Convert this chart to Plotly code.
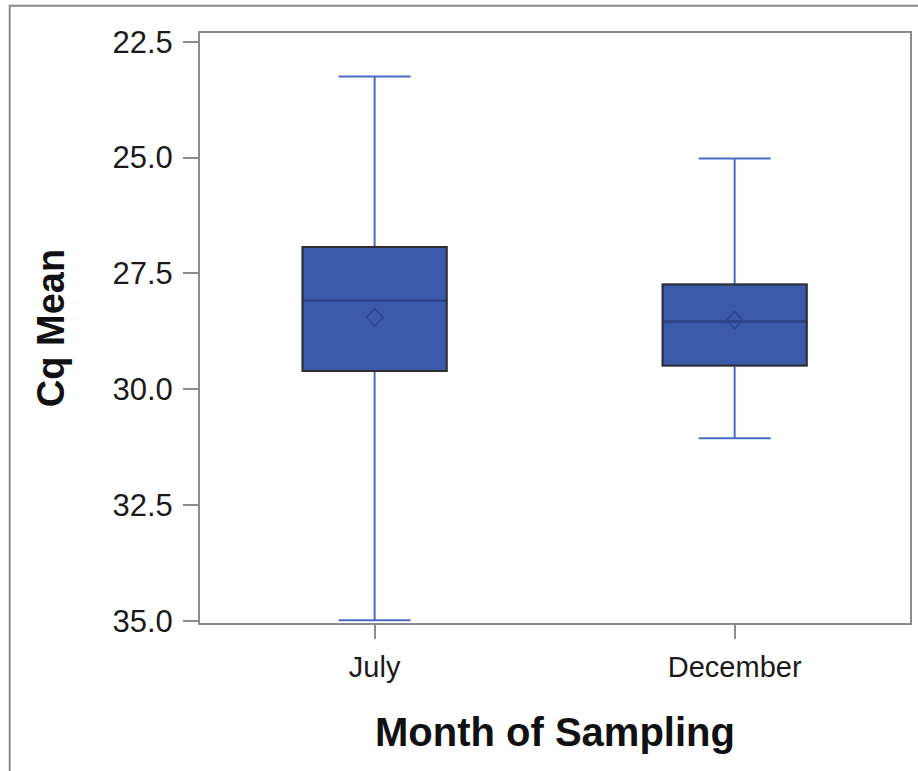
import plotly.graph_objects as go

# Cq summary statistics per sampling month
months = ["July", "December"]
cq_min = [23.25, 25.02]
cq_q1 = [26.93, 27.74]
cq_median = [28.09, 28.54]
cq_q3 = [29.61, 29.49]
cq_max = [34.99, 31.06]
cq_mean = [28.45, 28.51]

positions = list(range(len(months)))

BOX_WIDTH = 0.40
FILL = "#3c5aac"
WHISKER = "#4b6cc0"
OUTLINE = "#2e2e2e"
MEDIAN = "#2b4593"
FRAME = "#8c8c8c"
FONT = "Liberation Sans, Arial, sans-serif"

fig = go.Figure()

# full box with whiskers (blue lines)
fig.add_trace(go.Box(
    x=positions, q1=cq_q1, median=cq_median, q3=cq_q3,
    lowerfence=cq_min, upperfence=cq_max,
    width=BOX_WIDTH, whiskerwidth=0.5,
    fillcolor=FILL, line=dict(color=WHISKER, width=2),
    boxpoints=False, hoverinfo="skip", showlegend=False,
))

# dark outline of the interquartile box
fig.add_trace(go.Box(
    x=positions, q1=cq_q1, median=cq_median, q3=cq_q3,
    lowerfence=cq_q1, upperfence=cq_q3,
    width=BOX_WIDTH, whiskerwidth=0,
    fillcolor=FILL, line=dict(color=OUTLINE, width=2),
    boxpoints=False, hoverinfo="skip", showlegend=False,
))

# median line across each box
fig.add_trace(go.Scatter(
    x=positions, y=cq_median, mode="markers",
    marker=dict(size=1, color="rgba(0,0,0,0)"),
    error_x=dict(type="data", array=[BOX_WIDTH / 2 - 0.004] * len(months),
                 color=MEDIAN, thickness=2, width=0),
    hoverinfo="skip", showlegend=False,
))

# mean marker
fig.add_trace(go.Scatter(
    x=positions, y=cq_mean, mode="markers",
    marker=dict(symbol="diamond-open", size=13, color=MEDIAN,
                line=dict(width=1.5, color=MEDIAN)),
    hoverinfo="skip", showlegend=False,
))

fig.update_layout(
    width=918, height=771,
    margin=dict(l=200, r=6, t=33, b=148),
    paper_bgcolor="white", plot_bgcolor="white",
    font=dict(family=FONT, color="#1a1a1a"),
    xaxis=dict(
        range=[-0.485, 1.487],
        tickmode="array", tickvals=positions, ticktext=months,
        tickfont=dict(size=29, color="#1a1a1a"),
        ticks="outside", ticklen=14, tickwidth=1.5, tickcolor=FRAME,
        ticklabelstandoff=3,
        showline=True, linecolor=FRAME, linewidth=2, mirror=True,
        showgrid=False, zeroline=False,
        title=dict(text="<b>Month of Sampling</b>",
                   font=dict(size=40, color="#111111"), standoff=36),
    ),
    yaxis=dict(
        range=[35.05, 22.31],
        tickvals=[22.5, 25.0, 27.5, 30.0, 32.5, 35.0], tickformat=".1f",
        tickfont=dict(size=31, color="#1a1a1a"),
        ticks="outside", ticklen=15, tickwidth=1.5, tickcolor=FRAME,
        ticklabelstandoff=4,
        showline=True, linecolor=FRAME, linewidth=2, mirror=True,
        showgrid=False, zeroline=False,
        title=dict(text="<b>Cq Mean</b>",
                   font=dict(size=38, color="#111111"), standoff=36),
    ),
    shapes=[dict(
        type="rect", xref="paper", yref="paper",
        x0=-0.268, x1=1.2, y0=-0.5, y1=1.046,
        line=dict(color=FRAME, width=2), fillcolor="rgba(0,0,0,0)",
        layer="below",
    )],
)

fig.write_html("out.html")
